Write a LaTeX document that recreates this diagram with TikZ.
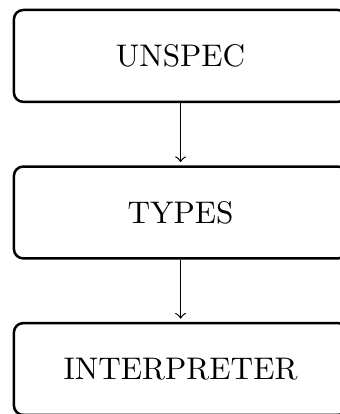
\documentclass[tikz,border=0pt]{standalone}
\usetikzlibrary{positioning}
\begin{document}
\begin{tikzpicture}[B/.style={draw, thick, rounded corners=3pt, minimum width=106.7pt, minimum height=29.4pt}, node distance=19.9pt]
		\useasboundingbox (-57.8pt,-114.6pt) rectangle (51pt,17.9pt);
		
		\node [B] (unspec) at (0,0) {UNSPEC};
		\node [B, below=of unspec] (types) {TYPES};
		\node [B, below=of types] (interp) {INTERPRETER};
		
		% link the stages
		\draw [->, shorten >=1pt] (unspec) -- (types);
		\draw [->, shorten >=1pt] (types) -- (interp);
		
\end{tikzpicture}
\end{document}
